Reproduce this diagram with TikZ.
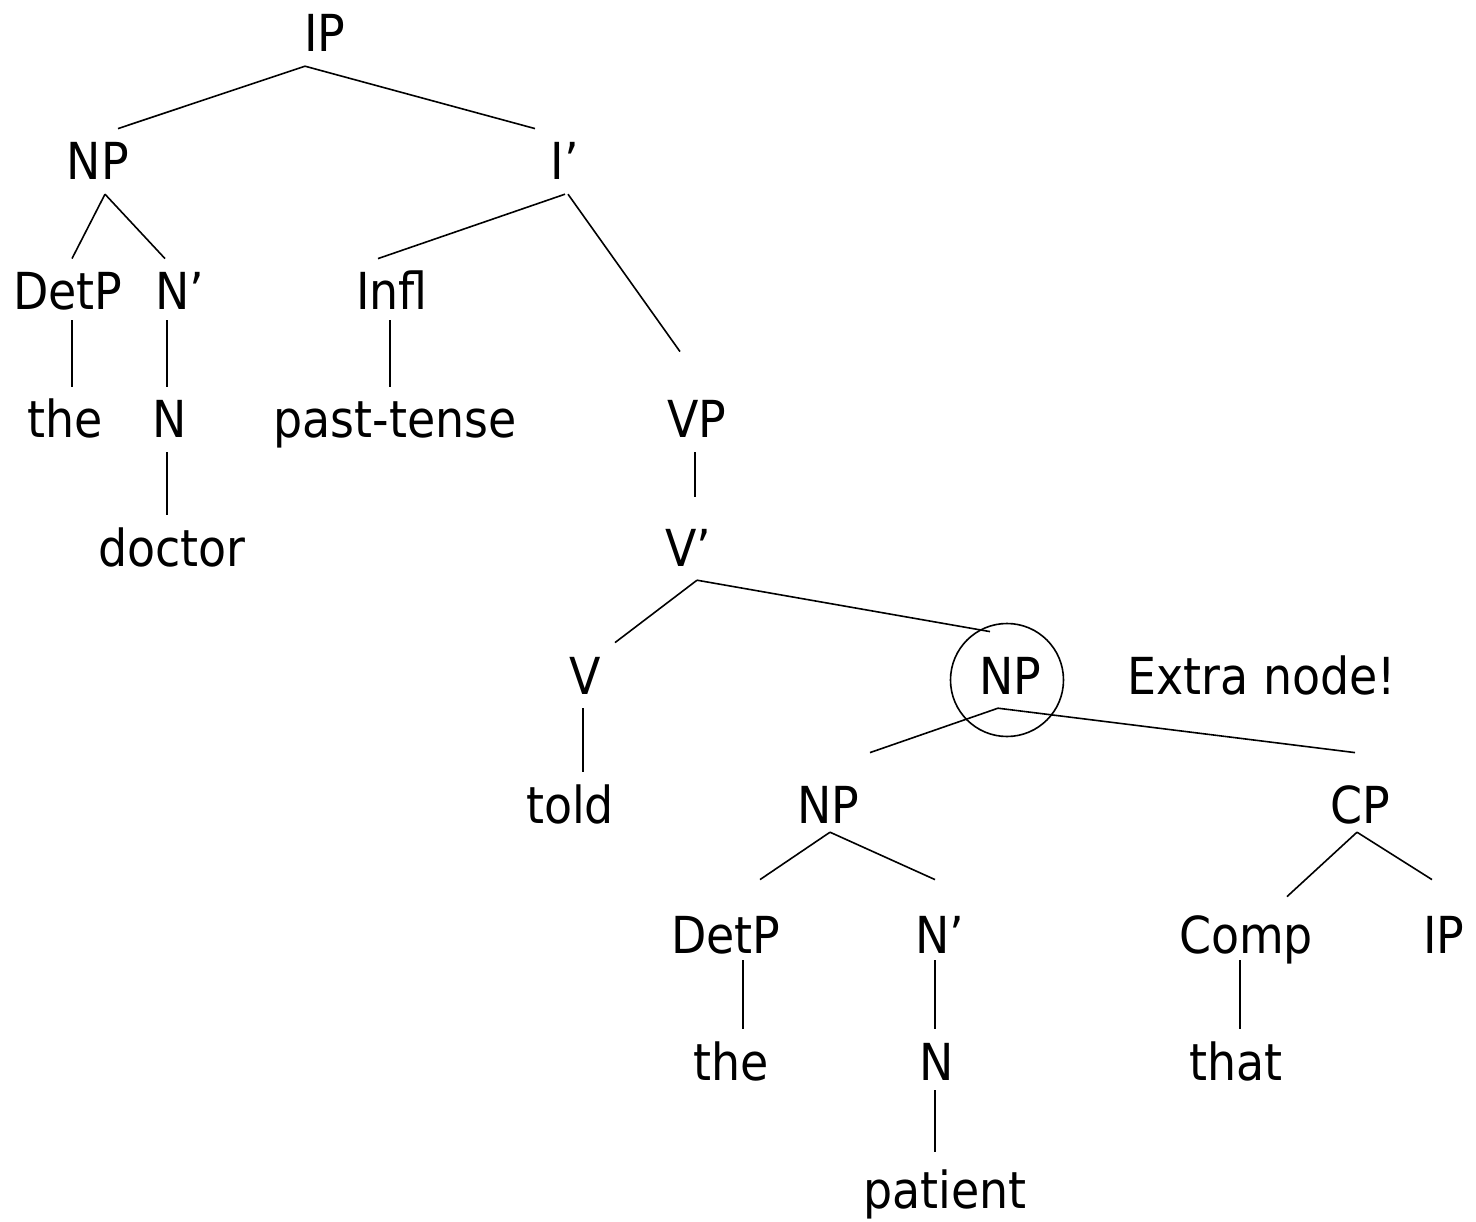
\documentclass[tikz,border=0pt]{standalone}
\usepackage{fontspec}
\setmainfont{DejaVu Sans}[FakeStretch=0.9]
\usetikzlibrary{positioning,calc}

\tikzset{
  syn/.style={anchor=base,font=\fontsize{51}{60}\selectfont,text height=37.2pt,text depth=0pt,inner xsep=0pt,inner ysep=14pt},
  br/.style={line width=1.6pt}
}

\begin{document}
\begin{tikzpicture}[x=1pt,y=-1pt]
  \useasboundingbox (0,0) rectangle (1476,1222);
  % tree labels
  \node[syn] (ip)      at (325,52)    {IP};
  \node[syn] (np)      at (98,180)    {NP};
  \node[syn] (ibar)    at (565,180)   {I’};
  \node[syn] (detp)    at (68,310)    {DetP};
  \node[syn] (nbar)    at (180,310)   {N’};
  \node[syn] (infl)    at (392,310)   {Infl};
  \node[syn] (the)     at (65,438)    {the};
  \node[syn] (n)       at (170,438)   {N};
  \node[syn] (past)    at (395,438)   {past-tense};
  \node[syn] (vp)      at (697,438)   {VP};
  \node[syn] (doctor)  at (172,566)   {doctor};
  \node[syn] (vbar)    at (688,566)   {V’};
  \node[syn] (v)       at (585,694)   {V};
  \node[syn] (npx)     at (1010,694)  {NP};
  \node[syn] (extra)   at (1262,694)  {Extra node!};
  \node[syn] (told)    at (570,823)   {told};
  \node[syn] (npb)     at (828,823)   {NP};
  \node[syn] (cp)      at (1360,823)  {CP};
  \node[syn] (detpb)   at (726,953)   {DetP};
  \node[syn] (nbarb)   at (940,953)   {N’};
  \node[syn] (comp)    at (1246,953)  {Comp};
  \node[syn] (ipb)     at (1444,953)  {IP};
  \node[syn] (theb)    at (731,1080)  {the};
  \node[syn] (nb)      at (937,1080)  {N};
  \node[syn] (that)    at (1236,1080) {that};
  \node[syn] (patient) at (945,1208)  {patient};

  % circle round the extra node
  \draw[br] ([shift={(-3,-14)}]npx.base) circle[radius=56.5pt];

  % branches
  \draw[br] ([shift={(-20,0)}]ip.south) -- ([shift={(20,0)}]np.north);
  \draw[br] ([shift={(-20,0)}]ip.south) -- ([shift={(-30,0)}]ibar.north);
  \draw[br] ([shift={(7,0)}]np.south) -- ([shift={(4,0)}]detp.north);
  \draw[br] ([shift={(7,0)}]np.south) -- ([shift={(-15,0)}]nbar.north);
  \draw[br] (ibar.south) -- ([shift={(-14,0)}]infl.north);
  \draw[br] ([shift={(3,0)}]ibar.south) -- ([shift={(-17,-35)}]vp.north);
  \draw[br] ([shift={(4,-4)}]detp.south) -- ([shift={(7,0)}]the.north);
  \draw[br] ([shift={(-13,-4)}]nbar.south) -- ([shift={(-3,0)}]n.north);
  \draw[br] ([shift={(-2,-4)}]infl.south) -- ([shift={(-5,0)}]past.north);
  \draw[br] ([shift={(-3,0)}]n.south) -- ([shift={(-5,0)}]doctor.north);
  \draw[br] ([shift={(-2,0)}]vp.south) -- ([shift={(7,-18)}]vbar.north);
  \draw[br] ([shift={(9,0)}]vbar.south) -- ([shift={(30,0)}]v.north);
  \draw[br] ([shift={(9,0)}]vbar.south) -- ([shift={(-20,-11)}]npx.north);
  \draw[br] ([shift={(-2,0)}]v.south) -- ([shift={(13,0)}]told.north);
  \draw[br] ([shift={(-12,0)}]npx.south) -- ([shift={(42,-19)}]npb.north);
  \draw[br] ([shift={(-12,0)}]npx.south) -- ([shift={(-5,-19)}]cp.north);
  \draw[br] ([shift={(2,-5)}]npb.south) -- ([shift={(34,-22)}]detpb.north);
  \draw[br] ([shift={(2,-5)}]npb.south) -- ([shift={(-5,-22)}]nbarb.north);
  \draw[br] ([shift={(-3,-5)}]cp.south) -- ([shift={(41,-5)}]comp.north);
  \draw[br] ([shift={(-3,-5)}]cp.south) -- ([shift={(-12,-22)}]ipb.north);
  \draw[br] ([shift={(17,-7)}]detpb.south) -- ([shift={(12,0)}]theb.north);
  \draw[br] ([shift={(-5,-7)}]nbarb.south) -- ([shift={(-2,0)}]nb.north);
  \draw[br] ([shift={(-6,-7)}]comp.south) -- ([shift={(4,0)}]that.north);
  \draw[br] ([shift={(-2,-4)}]nb.south) -- ([shift={(-10,-5)}]patient.north);
\end{tikzpicture}
\end{document}
